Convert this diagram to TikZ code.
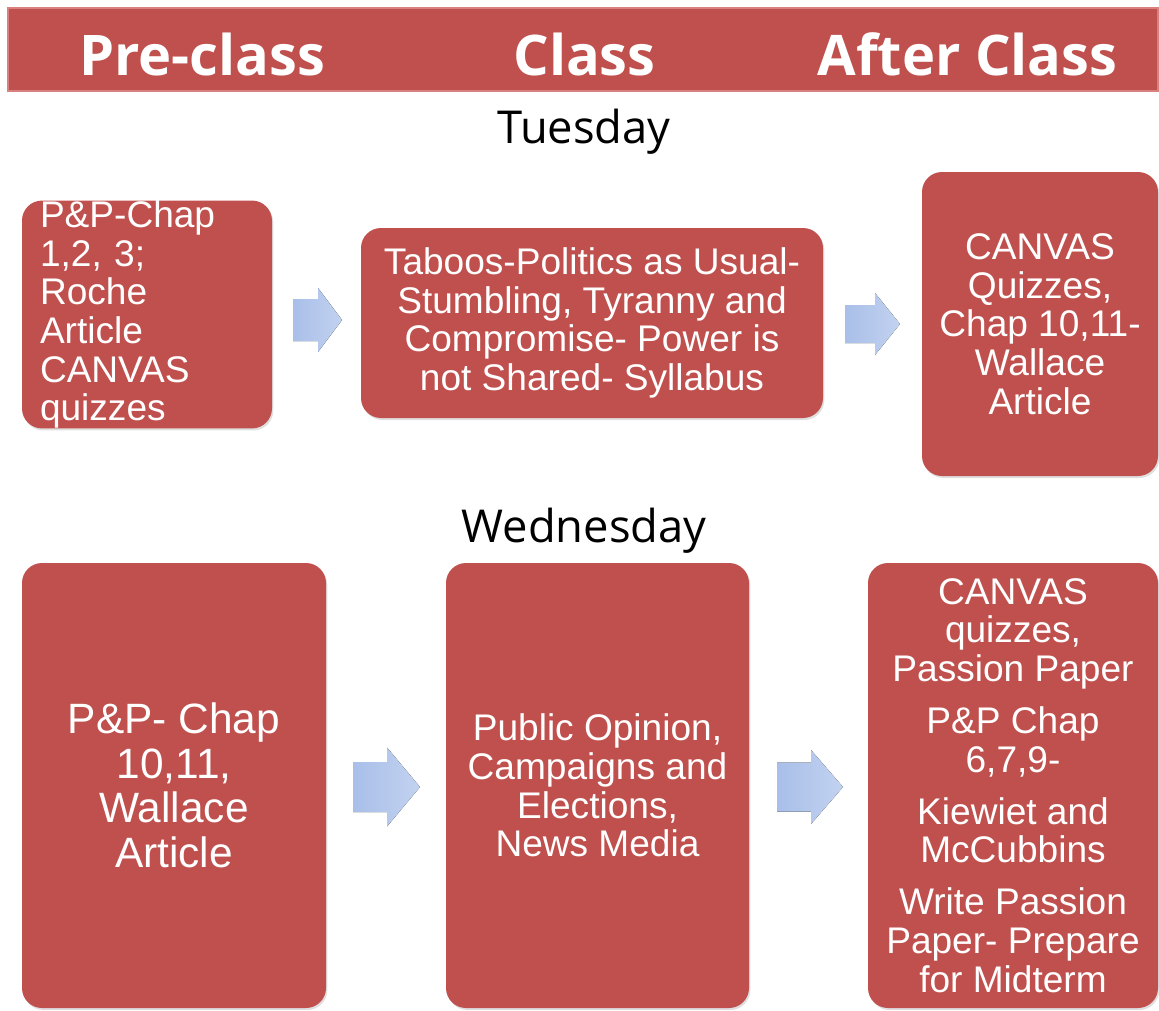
\documentclass[tikz,border=0pt]{standalone}
\usepackage{fontspec}
\setmainfont{Liberation Sans}
\newfontfamily\headfont{Open Sans}
\usetikzlibrary{shadows}

\definecolor{boxred}{HTML}{C0504D}
\definecolor{headborder}{HTML}{D8817F}
\definecolor{arrowdark}{HTML}{A9BFE9}
\definecolor{arrowlight}{HTML}{C2D2F0}

\tikzset{
    topic/.style={rounded corners=15pt, fill=boxred, text=white, inner sep=0pt, align=center,
        font=\fontsize{27.8}{29}\selectfont,
        drop shadow={opacity=0.25, shadow xshift=1pt, shadow yshift=-1.5pt}},
    flow/.style={left color=arrowdark, right color=arrowlight, draw=none},
    colhead/.style={anchor=base, text=white, font=\headfont\bfseries\fontsize{42}{50}\selectfont},
    dayname/.style={anchor=base, font=\headfont\fontsize{34}{40}\selectfont}
}

\begin{document}
\begin{tikzpicture}[x=0.75pt, y=-0.75pt]
    \useasboundingbox (0,0) rectangle (1159,1010);

    % Column headings
    \node[fill=boxred, draw=headborder, line width=2pt, minimum width=862.5pt, minimum height=62.25pt, inner sep=0pt] (header) at (583,49.5) {};
    \node[colhead] (preclass) at (202,75) {Pre-class};
    \node[colhead] (class) at (584.5,75) {Class};
    \node[colhead] (afterclass) at (967.5,75) {After Class};

    % Tuesday
    \node[dayname] (tuesday) at (584,143) {Tuesday};

    \node[topic, align=left, text width=160.5pt, minimum width=187.5pt, minimum height=161.25pt] (tue1) at (147,314.5) {
    P\&P-Chap\\
    1,2, 3;\\
    Roche\\
    Article\\
    CANVAS\\
    quizzes};
    \node[topic, minimum width=346.5pt, minimum height=142.5pt] (tue2) at (592,323) {
    Taboos-Politics as Usual-\\
    Stumbling, Tyranny and\\
    Compromise- Power is\\
    not Shared- Syllabus};
    \node[topic, minimum width=177pt, minimum height=228pt] (tue3) at (1040,324) {
    CANVAS\\
    Quizzes,\\
    Chap 10,11-\\
    Wallace\\
    Article};

    % Wednesday
    \node[dayname] (wednesday) at (584,542) {Wednesday};

    \node[topic, font=\fontsize{31.8}{33.4}\selectfont, minimum width=228pt, minimum height=333.75pt] (wed1) at (174,785.5) {
    P\&P- Chap\\
    10,11,\\
    Wallace\\
    Article};
    \node[topic, minimum width=227.25pt, minimum height=333.75pt] (wed2) at (597.5,785.5) {
    Public Opinion,\\
    Campaigns and\\
    Elections,\\
    News Media};
    \node[topic, minimum width=217.5pt, minimum height=333.75pt] (wed3) at (1013,785.5) {
    CANVAS\\
    quizzes,\\
    Passion Paper\\[10pt]
    P\&P Chap\\
    6,7,9-\\[10pt]
    Kiewiet and\\
    McCubbins\\[10pt]
    Write Passion\\
    Paper- Prepare\\
    for Midterm};

    % Block arrows between the boxes
    \foreach \name/\x/\y/\len/\head/\shaft/\tip in {arrow1/293/320/49/24/21/32, arrow2/845/324/55/25/19/31,
        arrow3/353/787/67/33/25/39.5, arrow4/777/787/66/32/24.5/37}
        \fill[flow] (\x,\y-\shaft) coordinate (\name) -- ++(\len-\head,0) -- ++(0,\shaft-\tip) -- ++(\head,\tip)
            -- ++(-\head,\tip) -- ++(0,\shaft-\tip) -- ++(\head-\len,0) -- cycle;
\end{tikzpicture}
\end{document}
